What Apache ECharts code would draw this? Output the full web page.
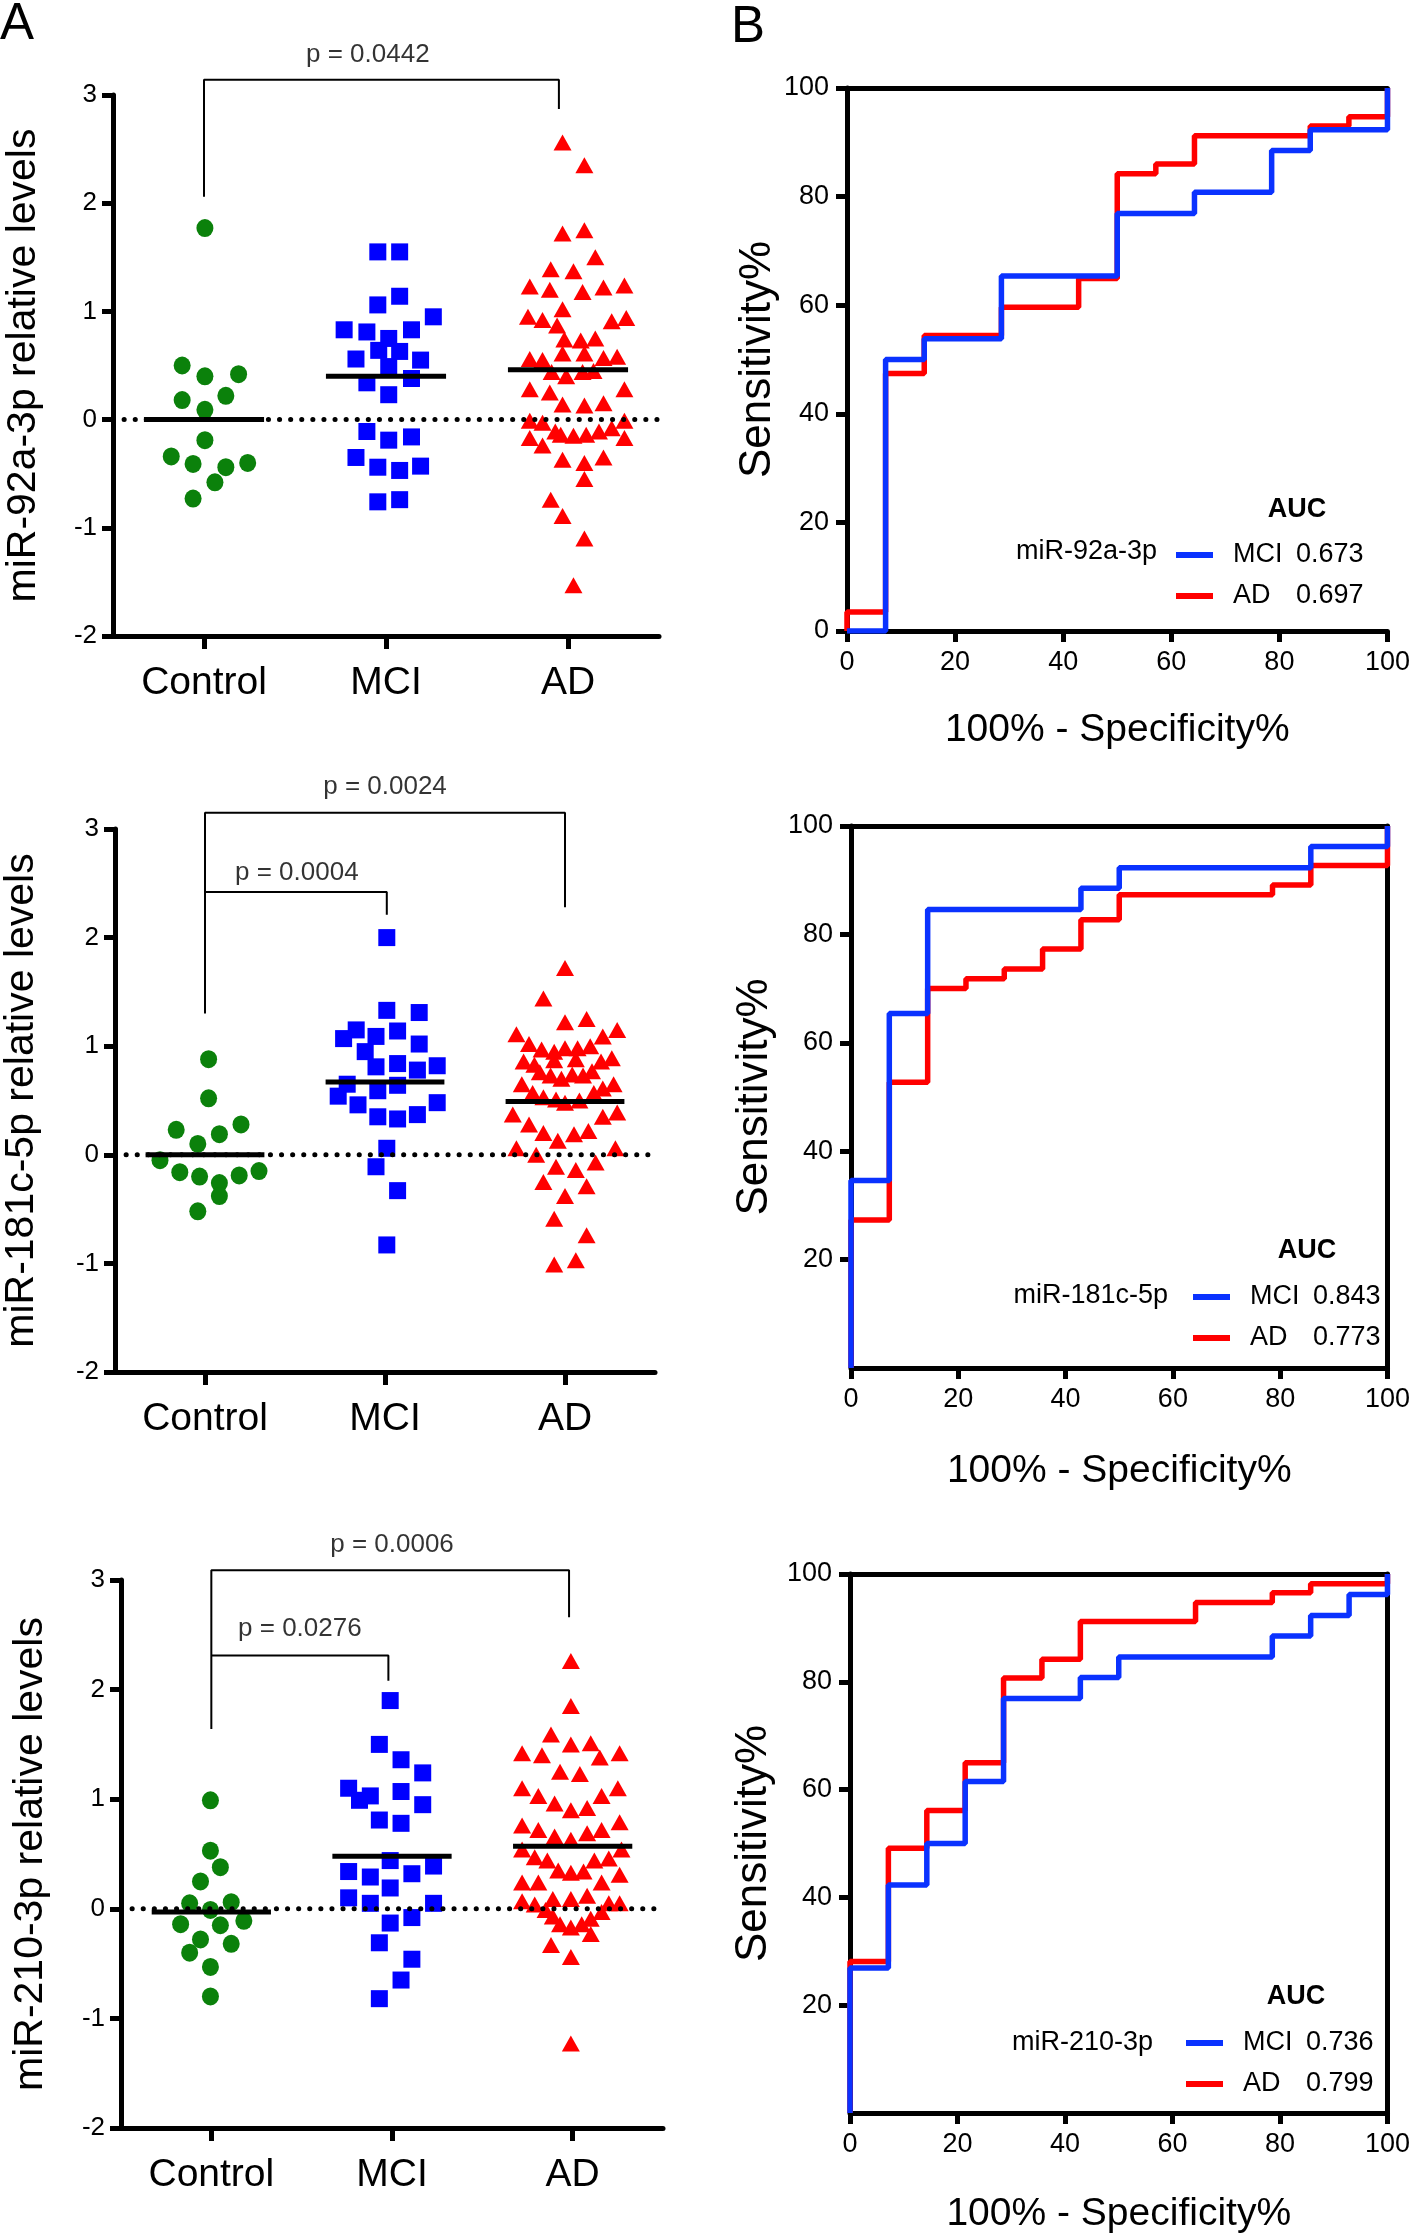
<!DOCTYPE html>
<html>
<head>
<meta charset="utf-8">
<script src="https://cdn.jsdelivr.net/npm/echarts@6/dist/echarts.min.js"></script>
<style>
  html, body { margin: 0; padding: 0; background: #fff; }
  #main { width: 1413px; height: 2235px; }
</style>
</head>
<body>
<div id="main"></div>
<script>
const FONT = "'Liberation Sans', Arial, Helvetica, sans-serif";
const groups = ["Control", "MCI", "AD"];
const mirs = ["miR-92a-3p", "miR-181c-5p", "miR-210-3p"];

// scatter points: [offset from group centre, relative level]
const ctrl92 = [[0.005,1.77],[-0.12,0.50],[0.005,0.40],[0.19,0.42],[-0.12,0.18],[0.12,0.22],[0.005,0.09],[0.005,-0.19],[-0.18,-0.34],[-0.06,-0.41],[0.24,-0.40],[0.12,-0.44],[0.06,-0.58],[-0.06,-0.73]];
const mci92 = [[-0.045,1.55],[0.075,1.55],[-0.045,1.06],[0.075,1.14],[0.26,0.95],[-0.23,0.83],[-0.105,0.81],[0.14,0.83],[0.015,0.75],[-0.165,0.56],[-0.04,0.64],[0.075,0.63],[0.19,0.55],[0.015,0.49],[-0.105,0.34],[0.14,0.38],[0.015,0.23],[-0.105,-0.11],[0.015,-0.19],[0.14,-0.16],[-0.165,-0.35],[-0.045,-0.44],[0.075,-0.47],[0.19,-0.43],[-0.045,-0.76],[0.075,-0.74]];
const ad92 = [[-0.03,2.56],[0.09,2.35],[-0.03,1.72],[0.09,1.75],[0.15,1.50],[-0.095,1.39],[0.03,1.37],[-0.21,1.23],[-0.10,1.20],[0.08,1.18],[0.195,1.22],[0.31,1.24],[-0.03,1.02],[-0.22,0.95],[-0.14,0.92],[-0.06,0.87],[0.24,0.91],[0.32,0.94],[-0.02,0.74],[0.07,0.73],[0.15,0.75],[-0.03,0.61],[0.09,0.61],[-0.21,0.56],[-0.14,0.55],[0.195,0.57],[0.27,0.58],[-0.09,0.44],[-0.01,0.40],[0.08,0.44],[0.14,0.45],[-0.21,0.28],[-0.10,0.25],[0.31,0.28],[-0.03,0.14],[0.09,0.13],[0.195,0.15],[-0.21,-0.01],[-0.14,-0.03],[0.31,-0.01],[-0.21,-0.17],[-0.07,-0.11],[-0.04,-0.14],[0.03,-0.15],[0.10,-0.14],[0.17,-0.11],[0.24,-0.08],[0.31,-0.17],[-0.14,-0.24],[-0.03,-0.37],[0.195,-0.35],[0.09,-0.40],[0.09,-0.55],[-0.095,-0.74],[-0.03,-0.89],[0.09,-1.10],[0.03,-1.53]];
const mean92 = [0, 0.40, 0.46];

const ctrl181 = [[0.02,0.88],[0.02,0.52],[-0.16,0.23],[0.20,0.28],[0.08,0.19],[-0.04,0.10],[-0.25,-0.05],[-0.14,-0.16],[-0.03,-0.20],[0.19,-0.19],[0.30,-0.15],[0.08,-0.26],[0.08,-0.38],[-0.04,-0.52]];
const mci181 = [[0.01,2.00],[0.01,1.33],[0.19,1.31],[-0.16,1.15],[-0.05,1.09],[0.07,1.14],[-0.23,1.07],[0.19,1.02],[-0.11,0.95],[-0.05,0.81],[0.07,0.84],[0.29,0.82],[0.18,0.78],[-0.21,0.65],[0.07,0.64],[-0.26,0.54],[-0.04,0.59],[-0.15,0.46],[0.29,0.48],[-0.04,0.35],[0.07,0.33],[0.18,0.37],[0.01,0.06],[-0.05,-0.11],[0.07,-0.33],[0.01,-0.83]];
const ad181 = [[0.00,1.72],[-0.12,1.44],[0.00,1.22],[0.12,1.25],[-0.27,1.11],[-0.20,1.02],[-0.13,0.97],[-0.06,0.95],[0.00,0.98],[0.07,0.98],[0.14,1.00],[0.21,1.09],[0.29,1.15],[-0.23,0.86],[-0.17,0.83],[-0.06,0.87],[0.06,0.88],[0.20,0.86],[0.26,0.89],[-0.14,0.76],[-0.08,0.73],[-0.02,0.70],[0.04,0.74],[0.10,0.73],[0.15,0.77],[-0.24,0.65],[-0.18,0.57],[-0.12,0.53],[-0.05,0.51],[0.00,0.48],[0.08,0.50],[0.16,0.57],[0.21,0.61],[0.27,0.65],[-0.29,0.37],[-0.20,0.28],[-0.12,0.20],[-0.04,0.13],[0.05,0.19],[0.13,0.22],[0.21,0.35],[0.29,0.39],[-0.27,0.06],[-0.16,0.00],[0.28,0.06],[-0.05,-0.11],[0.06,-0.14],[0.17,-0.07],[-0.12,-0.25],[0.12,-0.29],[0.00,-0.38],[-0.06,-0.59],[0.12,-0.74],[-0.06,-1.01],[0.06,-0.97]];
const mean181 = [0, 0.67, 0.49];

const ctrl210 = [[-0.005,0.99],[-0.005,0.53],[0.05,0.38],[-0.06,0.25],[-0.12,0.05],[0.11,0.06],[-0.005,-0.01],[-0.17,-0.14],[0.18,-0.11],[0.05,-0.15],[-0.06,-0.28],[0.11,-0.32],[-0.12,-0.40],[-0.005,-0.53],[-0.005,-0.80]];
const mci210 = [[-0.01,1.90],[-0.07,1.50],[0.05,1.36],[0.17,1.24],[-0.24,1.10],[-0.18,0.99],[-0.12,1.03],[0.05,1.07],[0.17,0.95],[-0.07,0.81],[0.05,0.78],[-0.01,0.44],[-0.24,0.34],[-0.12,0.29],[0.11,0.32],[0.23,0.39],[-0.01,0.19],[-0.24,0.10],[-0.12,0.05],[0.23,0.05],[0.11,-0.08],[-0.01,-0.13],[-0.07,-0.31],[0.11,-0.46],[0.05,-0.65],[-0.07,-0.82]];
const ad210 = [[-0.01,2.26],[-0.01,1.85],[-0.12,1.59],[-0.28,1.42],[-0.17,1.40],[-0.01,1.50],[0.10,1.51],[0.15,1.38],[0.26,1.42],[-0.07,1.25],[0.04,1.23],[-0.28,1.10],[-0.19,1.03],[0.16,1.03],[0.25,1.10],[-0.10,0.96],[-0.01,0.90],[0.08,0.92],[-0.28,0.76],[-0.19,0.72],[-0.10,0.66],[0.08,0.69],[0.16,0.72],[0.26,0.79],[-0.01,0.63],[-0.28,0.54],[-0.21,0.47],[-0.14,0.44],[0.12,0.44],[0.20,0.46],[0.27,0.54],[-0.08,0.35],[-0.01,0.33],[0.06,0.34],[-0.28,0.24],[-0.19,0.24],[0.16,0.24],[0.26,0.31],[-0.11,0.09],[-0.01,0.09],[0.08,0.12],[-0.28,0.07],[-0.21,0.04],[-0.15,-0.01],[0.20,0.05],[0.26,0.05],[-0.11,-0.07],[-0.07,-0.14],[-0.01,-0.17],[0.05,-0.14],[0.10,-0.09],[0.16,-0.03],[0.10,-0.23],[-0.12,-0.33],[-0.01,-0.44],[-0.01,-1.23]];
const mean210 = [-0.03, 0.48, 0.57];

// significance brackets (data units) and p-value labels
const bracket92 = [[[1, 2.06], [1, 3.14], [2.95, 3.14], [2.95, 2.87]]];
const pText92 = [[1.9, 3.37, "p = 0.0442"]];
const bracket181 = [[[1, 1.30], [1, 3.15], [3.0, 3.15], [3.0, 2.28]], [[1, 2.42], [2.01, 2.42], [2.01, 2.21]]];
const pText181 = [[2.0, 3.39, "p = 0.0024"], [1.51, 2.60, "p = 0.0004"]];
const bracket210 = [[[1, 1.64], [1, 3.09], [2.98, 3.09], [2.98, 2.66]], [[1, 2.31], [1.98, 2.31], [1.98, 2.08]]];
const pText210 = [[2.0, 3.32, "p = 0.0006"], [1.49, 2.55, "p = 0.0276"]];

// ROC steps: [100% - Specificity%, Sensitivity%]
const roc92MCI = [[0,0],[7.14,50],[14.29,53.8],[28.57,65.4],[50,76.9],[64.29,80.8],[78.57,88.5],[85.71,92.3],[100,100]];
const roc92AD = [[0,0],[0,3.5],[7.14,47.4],[14.29,54.4],[28.57,59.6],[42.86,64.9],[50,84.2],[57.14,86.0],[64.29,91.2],[85.71,93.0],[92.86,94.7],[100,100]];
const roc181MCI = [[0,0],[0,34.6],[7.14,65.4],[14.29,84.6],[42.86,88.5],[50,92.3],[85.71,96.2],[100,100]];
const roc181AD = [[0,0],[0,27.3],[7.14,52.7],[14.29,70.0],[21.43,71.8],[28.57,73.6],[35.71,77.3],[42.86,82.7],[50,87.3],[78.57,89.1],[85.71,92.7],[100,100]];
const roc210MCI = [[0,0],[0,26.9],[7.14,42.3],[14.29,50],[21.43,61.5],[28.57,76.9],[42.86,80.8],[50,84.6],[78.57,88.5],[85.71,92.3],[92.86,96.2],[100,100]];
const roc210AD = [[0,0],[0,28.1],[7.14,49.1],[14.29,56.1],[21.43,65.0],[28.57,80.7],[35.71,84.2],[42.86,91.2],[64.29,94.7],[78.57,96.5],[85.71,98.2],[100,100]];
const aucMCI = ["0.673", "0.843", "0.736"];
const aucAD = ["0.697", "0.773", "0.799"];

const scatterPanels = [
  { sets: [ctrl92, mci92, ad92], means: mean92, brackets: bracket92, pText: pText92 },
  { sets: [ctrl181, mci181, ad181], means: mean181, brackets: bracket181, pText: pText181 },
  { sets: [ctrl210, mci210, ad210], means: mean210, brackets: bracket210, pText: pText210 }
];
const rocPanels = [
  { mci: roc92MCI, ad: roc92AD },
  { mci: roc181MCI, ad: roc181AD },
  { mci: roc210MCI, ad: roc210AD }
];

// layout
const gridA = [
  { left: 113, top: 95, width: 546, height: 541 },
  { left: 114, top: 829, width: 541, height: 543 },
  { left: 121, top: 1580, width: 542, height: 548 }
];
const gridB = [
  { left: 847, top: 88, width: 543, height: 543 },
  { left: 851, top: 826, width: 542, height: 542 },
  { left: 850, top: 1574, width: 543, height: 542 }
];
const yNameGapA = [69, 73, 70];
const yNameGapB = [66, 74, 74];
const xNameGapB = [80, 84, 82];
const legendPos = [[1171, 535], [1188, 1277], [1181, 2023]];
const aucPos = [[1297, 510], [1307, 1251], [1296, 1997]];
const mirPos = [[1157, 552], [1168, 1296], [1153, 2043]];

const GREEN = "#0b810b", BLUE = "#0000ff", RED = "#ff0000", ROC_BLUE = "#0a32ff";
const symbols = ["circle", "rect", "triangle"];
const symColors = [GREEN, BLUE, RED];
const symSizes = [[17, 18], 17, [18, 16]];
const meanHalf = 0.33;
const axisLine = { show: true, onZero: false, lineStyle: { color: "#000", width: 5 } };

const grid = [], xAxis = [], yAxis = [], series = [], legend = [], graphic = [];

scatterPanels.forEach((p, i) => {
  grid.push(gridA[i]);
  const gi = grid.length - 1, xi = xAxis.length, yi = yAxis.length;
  xAxis.push({
    type: "value", gridIndex: gi, min: 0.5, max: 3.5,
    splitLine: { show: false }, axisLine: axisLine,
    axisTick: { show: true, customValues: [1, 2, 3], length: 13, lineStyle: { color: "#000", width: 5 } },
    axisLabel: { customValues: [1, 2, 3], formatter: v => groups[Math.round(v) - 1], fontSize: 39, color: "#000", margin: 28, fontFamily: FONT }
  });
  yAxis.push({
    type: "value", gridIndex: gi, min: -2, max: 3, interval: 1,
    splitLine: { show: false }, axisLine: axisLine,
    axisTick: { show: true, length: 11, lineStyle: { color: "#000", width: 5 } },
    axisLabel: { fontSize: 26, color: "#000", margin: 16, fontFamily: FONT },
    name: mirs[i] + " relative levels", nameLocation: "middle", nameGap: yNameGapA[i],
    nameTextStyle: { fontSize: 41, color: "#000", fontFamily: FONT }
  });
  p.sets.forEach((pts, g) => {
    series.push({
      type: "scatter", xAxisIndex: xi, yAxisIndex: yi, symbol: symbols[g], symbolSize: symSizes[g],
      itemStyle: { color: symColors[g], opacity: 1 },
      data: pts.map(d => [g + 1 + d[0], d[1]])
    });
  });
  series.push({
    type: "line", xAxisIndex: xi, yAxisIndex: yi, symbol: "none", silent: true,
    lineStyle: { color: "#000", width: 5, type: [0.1, 11], cap: "round" },
    data: [[0.5, 0], [3.5, 0]]
  });
  p.means.forEach((m, g) => {
    series.push({
      type: "line", xAxisIndex: xi, yAxisIndex: yi, symbol: "none", silent: true,
      lineStyle: { color: "#000", width: 5 },
      data: [[g + 1 - meanHalf, m], [g + 1 + meanHalf, m]]
    });
  });
  p.brackets.forEach(b => {
    series.push({
      type: "line", xAxisIndex: xi, yAxisIndex: yi, symbol: "none", silent: true, clip: false,
      lineStyle: { color: "#000", width: 2 }, data: b
    });
  });
  series.push({
    type: "scatter", xAxisIndex: xi, yAxisIndex: yi, symbolSize: 1, clip: false, silent: true,
    itemStyle: { color: "transparent" },
    label: {
      show: true, position: "inside", formatter: d => d.value[2], fontSize: 26, color: "#000",
      fontFamily: FONT, textBorderWidth: 0, textBorderColor: "transparent"
    },
    data: p.pText
  });
});

rocPanels.forEach((r, k) => {
  grid.push(gridB[k]);
  const gi = grid.length - 1, xi = xAxis.length, yi = yAxis.length;
  xAxis.push({
    type: "value", gridIndex: gi, min: 0, max: 100, interval: 20, position: "bottom",
    splitLine: { show: false }, axisLine: axisLine,
    axisTick: { show: true, length: 11, lineStyle: { color: "#000", width: 5 } },
    axisLabel: { fontSize: 27, color: "#000", margin: 18, fontFamily: FONT },
    name: "100% - Specificity%", nameLocation: "middle", nameGap: xNameGapB[k],
    nameTextStyle: { fontSize: 39, color: "#000", fontFamily: FONT }
  });
  xAxis.push({
    type: "value", gridIndex: gi, min: 0, max: 100, position: "top",
    splitLine: { show: false }, axisLine: axisLine, axisTick: { show: false }, axisLabel: { show: false }
  });
  yAxis.push({
    type: "value", gridIndex: gi, min: 0, max: 100, interval: 20, position: "left",
    splitLine: { show: false }, axisLine: axisLine,
    axisTick: { show: true, length: 11, lineStyle: { color: "#000", width: 5 } },
    axisLabel: { fontSize: 27, color: "#000", margin: 18, fontFamily: FONT, showMinLabel: k === 0 },
    name: "Sensitivity%", nameLocation: "middle", nameGap: yNameGapB[k],
    nameTextStyle: { fontSize: 44, color: "#000", fontFamily: FONT }
  });
  if (k > 0) {
    yAxis.push({
      type: "value", gridIndex: gi, min: 0, max: 100, position: "right",
      splitLine: { show: false }, axisLine: axisLine, axisTick: { show: false }, axisLabel: { show: false }
    });
  }
  const mciName = "MCI " + aucMCI[k], adName = "AD " + aucAD[k];
  series.push({
    type: "line", name: adName, xAxisIndex: xi, yAxisIndex: yi, step: "end", symbol: "none",
    color: RED, lineStyle: { color: RED, width: 5.5 }, data: r.ad
  });
  series.push({
    type: "line", name: mciName, xAxisIndex: xi, yAxisIndex: yi, step: "end", symbol: "none",
    color: ROC_BLUE, lineStyle: { color: ROC_BLUE, width: 5.5 }, data: r.mci
  });
  legend.push({
    data: [mciName, adName], orient: "vertical", left: legendPos[k][0], top: legendPos[k][1],
    icon: "rect", itemWidth: 37, itemHeight: 6, itemGap: 11, selectedMode: false,
    formatter: name => {
      const parts = name.split(" ");
      return "{n|" + parts[0] + "}{v|" + parts[1] + "}";
    },
    textStyle: {
      fontSize: 27, color: "#000", fontFamily: FONT, lineHeight: 30,
      rich: {
        n: { fontSize: 27, fontFamily: FONT, color: "#000", width: 63, padding: [0, 0, 0, 15] },
        v: { fontSize: 27, fontFamily: FONT, color: "#000" }
      }
    }
  });
  graphic.push({
    type: "text", x: aucPos[k][0], y: aucPos[k][1],
    style: { text: "AUC", fontSize: 27, fontWeight: "bold", fontFamily: FONT, fill: "#000", align: "center", verticalAlign: "middle" }
  });
  graphic.push({
    type: "text", x: mirPos[k][0], y: mirPos[k][1],
    style: { text: mirs[k], fontSize: 27, fontFamily: FONT, fill: "#000", align: "right", verticalAlign: "middle" }
  });
});

graphic.push({ type: "text", x: 0, y: 25, style: { text: "A", fontSize: 51, fontFamily: FONT, fill: "#000", align: "left", verticalAlign: "middle" } });
graphic.push({ type: "text", x: 731, y: 28, style: { text: "B", fontSize: 51, fontFamily: FONT, fill: "#000", align: "left", verticalAlign: "middle" } });

const chart = echarts.init(document.getElementById("main"), null, { renderer: "canvas" });
chart.setOption({
  backgroundColor: "#fff",
  animation: false,
  textStyle: { fontFamily: FONT },
  grid: grid,
  xAxis: xAxis,
  yAxis: yAxis,
  legend: legend,
  graphic: graphic,
  series: series
});
</script>
</body>
</html>
